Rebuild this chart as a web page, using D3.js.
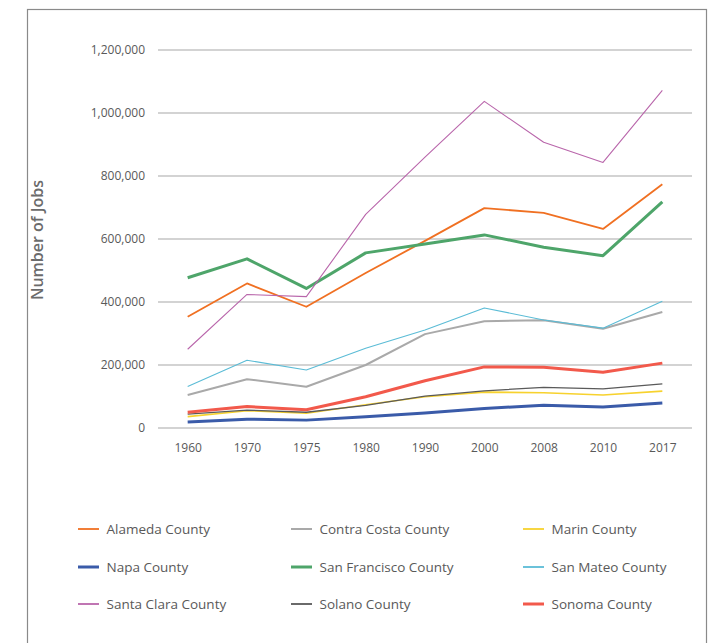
<!DOCTYPE html>
<html><head><meta charset="utf-8">
<script src="https://cdn.jsdelivr.net/npm/d3@7"></script>
<style>body{margin:0;background:#fff;}svg{display:block;font-family:"Open Sans",Lato,sans-serif;}</style>
</head><body>
<script>
const years = ["1960","1970","1975","1980","1990","2000","2008","2010","2017"];
const yTicks = [0,200000,400000,600000,800000,1000000,1200000];
const counties = ["Alameda County","Contra Costa County","Marin County","Napa County","San Francisco County","San Mateo County","Santa Clara County","Solano County","Sonoma County"];
const alameda     = [353000,459000,385000,492000,594000,698000,683000,632000,774000];
const contraCosta = [105000,155000,131000,200000,298000,339000,342000,315000,368000];
const marin       = [36000,55000,47000,74000,99000,114000,112000,105000,117000];
const napa        = [19000,28000,25000,36000,48000,62000,72000,67000,79000];
const sanFrancisco= [477000,537000,443000,556000,584000,613000,574000,547000,718000];
const sanMateo    = [132000,215000,184000,253000,311000,381000,343000,317000,402000];
const santaClara  = [250000,424000,417000,678000,860000,1037000,907000,843000,1072000];
const solano      = [44000,57000,50000,72000,101000,118000,129000,124000,140000];
const sonoma      = [50000,68000,58000,99000,150000,194000,193000,177000,206000];
const seriesValues = [alameda,contraCosta,marin,napa,sanFrancisco,sanMateo,santaClara,solano,sonoma];
const colors = ["#F07022","#A9A9A9","#F7D22E","#3A5BA9","#4EA56A","#5BBCD6","#B966AB","#5A5A5A","#F2594B"];
const widths = [1.8,2,1.6,3,3,1.1,1.1,1.3,3];

const W=709,H=643;
const FONT="'Open Sans',Lato,sans-serif";
const svg=d3.select("body").append("svg").attr("width",W).attr("height",H);
svg.append("rect").attr("x",27.5).attr("y",9.5).attr("width",679).attr("height",660)
  .attr("fill","none").attr("stroke","#8a8a8a").attr("stroke-width",1.2);

const x=d3.scalePoint().domain(years).range([158,692]).padding(0.5);
const y=d3.scaleLinear().domain([0,1200000]).range([428,50]);

const grid=svg.append("g");
grid.selectAll("line").data(yTicks).join("line")
  .attr("x1",158).attr("x2",692).attr("y1",d=>y(d)).attr("y2",d=>y(d))
  .attr("stroke","#c4c4c4").attr("stroke-width",1.3);

const yAxis=svg.append("g").attr("transform","translate(158,0)")
  .call(d3.axisLeft(y).tickValues(yTicks).tickFormat(d3.format(",")).tickSize(0).tickPadding(13));
yAxis.select(".domain").remove();
yAxis.selectAll("text").attr("fill","#595959").style("font-size","12px").style("font-family",FONT);

const xAxis=svg.append("g").attr("transform","translate(0,428)")
  .call(d3.axisBottom(x).tickSize(0).tickPadding(15));
xAxis.select(".domain").remove();
xAxis.selectAll("text").attr("fill","#595959").style("font-size","12px").style("font-family",FONT);

svg.append("text").attr("transform","translate(43,240) rotate(-90)").attr("text-anchor","middle")
  .attr("fill","#6b6b6b").style("font-size","16px").style("font-weight","600").style("font-family",FONT).text("Number of Jobs");

const line=d3.line().x((d,i)=>x(years[i])).y(d=>y(d));
svg.append("g").selectAll("path").data(seriesValues).join("path")
  .attr("d",d=>line(d)).attr("fill","none")
  .attr("stroke",(d,i)=>colors[i]).attr("stroke-width",(d,i)=>widths[i])
  .attr("stroke-linejoin","round");

const colX=[78,291,523], rowY=[529,567,604];
const leg=svg.append("g").selectAll("g").data(counties).join("g")
  .attr("transform",(d,i)=>`translate(${colX[i%3]},${rowY[Math.floor(i/3)]})`);
leg.append("line").attr("x1",0).attr("x2",21).attr("y1",0).attr("y2",0)
  .attr("stroke",(d,i)=>colors[i]).attr("stroke-width",(d,i)=>Math.max(widths[i],1.8));
leg.append("text").attr("x",28.5).attr("y",4.7).attr("fill","#595959").style("font-size","13.5px").style("font-family",FONT).text(d=>d);
</script>
</body></html>
